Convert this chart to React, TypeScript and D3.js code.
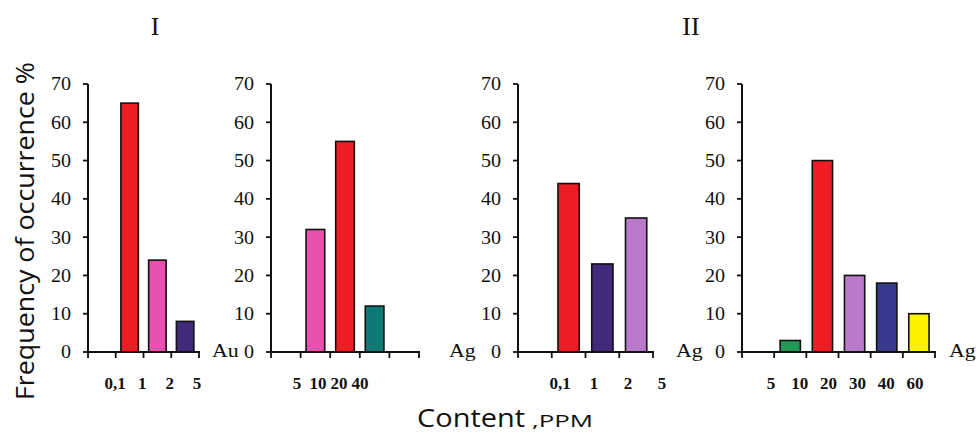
import React from "react";
import * as d3 from "d3";

// bins per panel (first/last empty bins have null values)
const panel1Bins = ["<0,1", "0,1-1", "1-2", "2-5"];
const panel1Values = [null, 65, 24, 8];
const panel1Labels = ["0,1", "1", "2", "5"];

const panel2Bins = ["<5", "5-10", "10-20", "20-40", ">40"];
const panel2Values = [null, 32, 55, 12, null];
const panel2Labels = ["5", "10", "20", "40"];

const panel3Bins = ["<0,1", "0,1-1", "1-2", "2-5"];
const panel3Values = [null, 44, 23, 35];
const panel3Labels = ["0,1", "1", "2", "5"];

const panel4Bins = ["<5", "5-10", "10-20", "20-30", "30-40", "40-60"];
const panel4Values = [null, 3, 50, 20, 18, 10];
const panel4Labels = ["5", "10", "20", "30", "40", "60"];

const yTicks = [0, 10, 20, 30, 40, 50, 60, 70];

// colours, kept apart from the values
const panel1Colors = ["none", "#ee1c24", "#e84fae", "#412a7c"];
const panel2Colors = ["none", "#e84fae", "#ee1c24", "#0e7a76", "none"];
const panel3Colors = ["none", "#ee1c24", "#412a7c", "#b97ac9"];
const panel4Colors = ["none", "#1f9a55", "#ee1c24", "#b97ac9", "#373a8c", "#fff200"];

const W = 979;
const H = 434;
const serif = "Liberation Serif, Times New Roman, serif";
const sans = "Open Sans, Noto Sans, sans-serif";

const yScale = d3.scaleLinear().domain([0, 70]).range([352, 84]);

const panels = [
  { bins: panel1Bins, values: panel1Values, labels: panel1Labels, colors: panel1Colors, x0: 88, x1: 199, lab: [115, 197] },
  { bins: panel2Bins, values: panel2Values, labels: panel2Labels, colors: panel2Colors, x0: 271, x1: 419, lab: [297, 360] },
  { bins: panel3Bins, values: panel3Values, labels: panel3Labels, colors: panel3Colors, x0: 518, x1: 653, lab: [560, 662] },
  { bins: panel4Bins, values: panel4Values, labels: panel4Labels, colors: panel4Colors, x0: 742, x1: 935, lab: [771, 915] },
];

const elementLabels = [
  { text: "Au", x: 212 },
  { text: "Ag", x: 449 },
  { text: "Ag", x: 676 },
  { text: "Ag", x: 949 },
];

const Panel = ({ p }: { p: any }) => {
  const x = d3
    .scaleBand<string>()
    .domain(p.bins)
    .range([p.x0, p.x1])
    .paddingInner(0.37)
    .paddingOuter(0.185);
  const step = x.step();
  const bounds = d3.range(p.bins.length + 1).map((i) => p.x0 + i * step);
  const labX = d3.scalePoint<string>().domain(p.labels).range(p.lab);
  const y0 = yScale(0);

  return (
    <g>
      {/* bars */}
      {p.bins.map((b: string, i: number) =>
        p.values[i] == null ? null : (
          <rect
            key={b}
            x={x(b)}
            y={yScale(p.values[i])}
            width={x.bandwidth()}
            height={y0 - yScale(p.values[i])}
            fill={p.colors[i]}
            stroke="#111"
            strokeWidth={1.6}
          />
        )
      )}
      {/* y axis */}
      <line x1={p.x0} x2={p.x0} y1={yScale(70)} y2={y0} stroke="#111" strokeWidth={2} />
      {yTicks.map((t) => (
        <g key={t}>
          <line x1={p.x0 - 5} x2={p.x0} y1={yScale(t)} y2={yScale(t)} stroke="#111" strokeWidth={1.8} />
          <text
            transform={`translate(${p.x0 - 17},${yScale(t)}) scale(1.06,1)`}
            dy="0.34em"
            textAnchor="end"
            fontFamily={serif}
            fontSize={19}
            fill="#111"
          >
            {t}
          </text>
        </g>
      ))}
      {/* x axis */}
      <line x1={p.x0 - 1} x2={p.x1 + 1} y1={y0} y2={y0} stroke="#111" strokeWidth={2} />
      {bounds.map((bx: number, i: number) => (
        <line key={i} x1={bx} x2={bx} y1={y0} y2={y0 + 6} stroke="#111" strokeWidth={1.8} />
      ))}
      {p.labels.map((l: string) => (
        <text
          key={l}
          x={labX(l)}
          y={389}
          textAnchor="middle"
          fontFamily={serif}
          fontWeight="bold"
          fontSize={17}
          fill="#111"
        >
          {l}
        </text>
      ))}
    </g>
  );
};

export default function App() {
  return (
    <svg width={W} height={H} style={{ position: "absolute", left: 0, top: 0, background: "#fff" }}>
      <rect width={W} height={H} fill="#fff" />
      <text x={155} y={35} textAnchor="middle" fontFamily={serif} fontSize={26} fill="#111">
        I
      </text>
      <text x={691} y={35} textAnchor="middle" fontFamily={serif} fontSize={26} fill="#111">
        II
      </text>
      {panels.map((p, i) => (
        <Panel key={i} p={p} />
      ))}
      {elementLabels.map((e, i) => (
        <text
          key={i}
          transform={`translate(${e.x},357) scale(1.15,1)`}
          fontFamily={serif}
          fontSize={19}
          fill="#111"
        >
          {e.text}
        </text>
      ))}
      <text
        transform="translate(34,231) rotate(-90)"
        textAnchor="middle"
        fontFamily={sans}
        fontSize={26}
        textLength={338}
        lengthAdjust="spacingAndGlyphs"
        fill="#111"
      >
        Frequency of occurrence %
      </text>
      <text x={417} y={427} fontFamily={sans} fontSize={25} textLength={108} lengthAdjust="spacingAndGlyphs" fill="#111">
        Content
      </text>
      <text x={532} y={427} fontFamily={sans} fontSize={17} textLength={61} lengthAdjust="spacingAndGlyphs" fill="#111">
        ,PPM
      </text>
    </svg>
  );
}
